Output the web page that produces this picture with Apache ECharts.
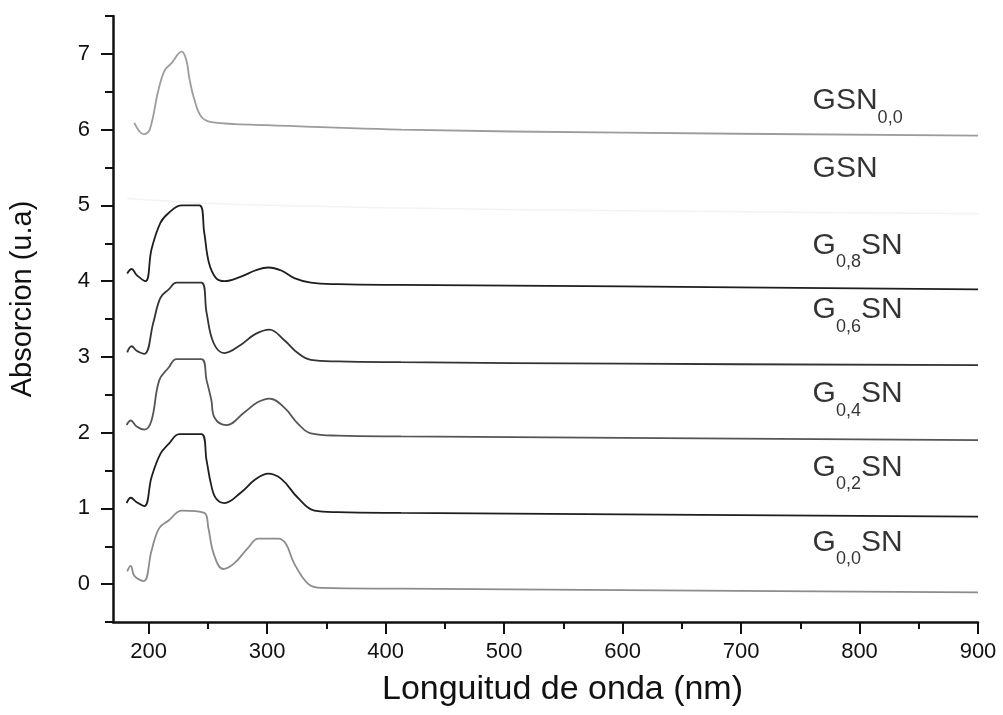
<!DOCTYPE html>
<html>
<head>
<meta charset="utf-8">
<script src="https://cdn.jsdelivr.net/npm/echarts@6/dist/echarts.min.js"></script>
<style>
html,body{margin:0;padding:0;background:#fff;}
#c{width:1003px;height:715px;}
</style>
</head>
<body>
<div id="c"></div>
<script>
// ---- data (wavelength nm, absorbance u.a) ----
const GSN00 = [[188,6.09],[196,5.94],[201,6.0],[208,6.5],[213.5,6.78],[219,6.87],[228,7.03],[232,6.91],[234.5,6.67],[239,6.38],[244.6,6.17],[253,6.10],[300,6.06],[413,6.0],[600,5.96],[900,5.92]];
const GSN = [[182,5.09],[260,5.02],[400,4.97],[600,4.93],[900,4.89]];
const G08 = [[182,4.10],[185.7,4.16],[190,4.08],[197.5,4.0],[202.5,4.42],[210,4.77],[217,4.9],[228,5.0],[243,5.0],[247,4.64],[251,4.24],[257,4.04],[264,4.0],[278,4.06],[290,4.14],[301,4.18],[312,4.14],[323,4.04],[337,3.98],[360,3.96],[412,3.95],[600,3.93],[900,3.89]];
const G06 = [[182,3.06],[185.7,3.14],[190,3.08],[196.6,3.04],[204,3.45],[210,3.78],[217,3.89],[223.6,3.98],[244.6,3.98],[249,3.58],[255,3.18],[264,3.05],[278,3.16],[290,3.30],[302,3.36],[314.6,3.22],[326,3.05],[337,2.96],[360,2.94],[413,2.93],[600,2.91],[900,2.89]];
const G04 = [[181.5,2.10],[185,2.16],[190,2.08],[196.6,2.04],[202.5,2.16],[209,2.69],[217,2.86],[223.6,2.97],[244.6,2.97],[249,2.69],[253,2.43],[255.6,2.2],[265.7,2.10],[281,2.27],[292,2.40],[302,2.45],[314.6,2.33],[326,2.12],[337,1.99],[360,1.96],[413,1.95],[600,1.93],[900,1.90]];
const G02 = [[181.5,1.07],[185,1.14],[190,1.08],[196.6,1.03],[202.5,1.41],[210,1.72],[217,1.85],[226,1.98],[244.6,1.98],[249,1.63],[253,1.30],[257,1.13],[264,1.07],[278,1.21],[290,1.38],[301,1.46],[312,1.39],[326,1.14],[340,0.97],[360,0.95],[413,0.94],[600,0.92],[900,0.89]];
const G00 = [[182,0.17],[185,0.24],[188,0.11],[196,0.04],[202.5,0.44],[209,0.74],[217,0.84],[228,0.97],[247,0.94],[250.5,0.74],[255,0.40],[263,0.20],[272,0.27],[284,0.48],[292.6,0.60],[309.5,0.60],[316,0.53],[323,0.27],[335,0.0],[346,-0.05],[413,-0.06],[600,-0.08],[900,-0.11]];

const seriesNames = ['GSN0,0','GSN','G0,8SN','G0,6SN','G0,4SN','G0,2SN','G0,0SN'];
const seriesData = [GSN00, GSN, G08, G06, G04, G02, G00];
const seriesColors = ['#9c9c9c','#f3f3f3','#1e1e1e','#333333','#555555','#1e1e1e','#8c8c8c'];

// curve labels: [main, subscript, main] parts
const labelParts = [['GSN','0,0',''],['GSN','',''],['G','0,8','SN'],['G','0,6','SN'],['G','0,4','SN'],['G','0,2','SN'],['G','0,0','SN']];
const labelX = 760;
const labelY = [6.38, 5.49, 4.47, 3.62, 2.51, 1.54, 0.55];

const xMajor = [200,300,400,500,600,700,800,900];
const xMinor = [250,350,450,550,650,750,850];
const yMajor = [0,1,2,3,4,5,6,7];
const yMinor = [-0.5,0.5,1.5,2.5,3.5,4.5,5.5,6.5,7.5];

const FONT = '"Liberation Sans", Arial, sans-serif';

const chart = echarts.init(document.getElementById('c'), null, {renderer:'canvas'});

const axisLineStyle = {color:'#111', width:2.5};

const series = seriesData.map((d,i)=>({
  name: seriesNames[i],
  type:'line',
  xAxisIndex:0, yAxisIndex:0,
  data: d,
  showSymbol:false,
  smooth:0.4,
  lineStyle:{color:seriesColors[i], width: i===1?1.5:1.8},
  silent:true,
  z: 2
}));

series.push({
  type:'scatter',
  xAxisIndex:0, yAxisIndex:0,
  symbol:'circle',
  symbolSize:1,
  itemStyle:{color:'rgba(0,0,0,0)'},
  data: labelY.map((y,i)=>[labelX,y]),
  label:{
    show:true,
    position:'right',
    distance:0,
    color:'#000',
    formatter:(p)=>{
      const pr = labelParts[p.dataIndex];
      let s = '{m|'+pr[0]+'}';
      if (pr[1]) s += '{s|'+pr[1]+'}';
      if (pr[2]) s += '{m|'+pr[2]+'}';
      return s;
    },
    rich:{
      m:{fontSize:30, lineHeight:32, color:'#000', fontFamily:FONT},
      s:{fontSize:18, lineHeight:18, padding:[34,0,0,0], color:'#000', fontFamily:FONT}
    }
  },
  silent:true,
  z:3
});

chart.setOption({
  animation:false,
  backgroundColor:'#fff',
  grid:{left:112, right:25, top:16, bottom:93, containLabel:false},
  xAxis:[{
    type:'value', min:170, max:900, position:'bottom',
    axisLine:{show:true, onZero:false, lineStyle:axisLineStyle},
    axisTick:{show:true, inside:false, length:12, lineStyle:{color:'#111', width:2}, customValues:xMajor},
    axisLabel:{show:true, customValues:xMajor, fontSize:22, color:'#111', margin:19, fontFamily:FONT},
    splitLine:{show:false},
    name:'Longuitud de onda (nm)', nameLocation:'middle', nameGap:51,
    nameTextStyle:{fontSize:34, color:'#111', fontFamily:FONT, padding:[0,0,0,34]}
  },{
    type:'value', min:170, max:900, position:'bottom',
    axisLine:{show:false, onZero:false},
    axisTick:{show:true, inside:false, length:7, lineStyle:{color:'#111', width:2}, customValues:xMinor},
    axisLabel:{show:false},
    splitLine:{show:false}
  }],
  yAxis:[{
    type:'value', min:-0.5, max:7.5, position:'left',
    axisLine:{show:true, onZero:false, lineStyle:axisLineStyle},
    axisTick:{show:true, inside:false, length:12, lineStyle:{color:'#111', width:2}, customValues:yMajor},
    axisLabel:{show:true, customValues:yMajor, fontSize:22, color:'#111', margin:23, fontFamily:FONT},
    splitLine:{show:false},
    name:'Absorcion (u.a)', nameLocation:'middle', nameGap:76,
    nameTextStyle:{fontSize:29, color:'#111', fontFamily:FONT, padding:[0,0,0,40]}
  },{
    type:'value', min:-0.5, max:7.5, position:'left',
    axisLine:{show:false, onZero:false},
    axisTick:{show:true, inside:false, length:8, lineStyle:{color:'#111', width:2}, customValues:yMinor},
    axisLabel:{show:false},
    splitLine:{show:false}
  }],
  series: series
});
</script>
</body>
</html>
